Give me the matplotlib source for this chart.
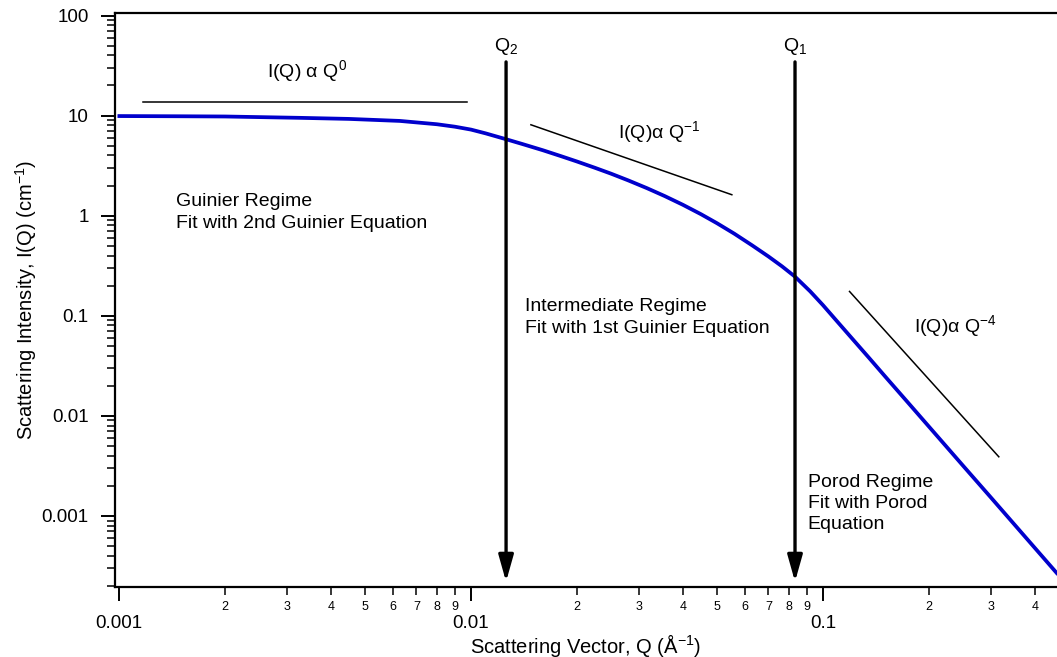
import numpy as np
import matplotlib
matplotlib.use("Agg")
import matplotlib.pyplot as plt
from matplotlib.ticker import LogLocator, FuncFormatter, NullFormatter

plt.rcParams['font.family'] = ['Liberation Sans', 'DejaVu Sans']
plt.rcParams['mathtext.fontset'] = 'custom'
plt.rcParams['mathtext.rm'] = 'Liberation Sans'
plt.rcParams['mathtext.it'] = 'Liberation Sans:italic'
plt.rcParams['mathtext.bf'] = 'Liberation Sans:bold'

# scattering curve
q = [0.00099, 0.0015, 0.002, 0.00327, 0.0045, 0.00628, 0.008, 0.009, 0.010,
     0.011, 0.0126, 0.014, 0.016, 0.018, 0.020, 0.0225, 0.025, 0.028,
     0.0316, 0.0355, 0.040, 0.045, 0.050, 0.056, 0.063, 0.070, 0.0765,
     0.0833, 0.092, 0.100, 0.110, 0.120, 0.135, 0.150, 0.175, 0.200,
     0.250, 0.300, 0.370, 0.470]
intensity = [9.9, 9.85, 9.8, 9.5, 9.27, 8.85, 8.2, 7.75, 7.25,
             6.65, 5.8, 5.2, 4.51, 3.94, 3.48, 3.01, 2.63, 2.25,
             1.886, 1.572, 1.285, 1.036, 0.841, 0.661, 0.504, 0.3915, 0.312,
             0.246, 0.1754, 0.1278, 0.0870, 0.0613, 0.0382, 0.0249, 0.0134, 0.00782,
             0.00318, 0.00153, 0.000656, 0.00025]

# power law guide lines
q0_x, q0_y = [0.00117, 0.00975], [13.8, 13.8]
qm1_x, qm1_y = [0.0148, 0.0551], [8.1, 1.62]
qm4_x, qm4_y = [0.119, 0.316], [0.175, 0.0039]

# crossover markers
q_marks = [0.01258, 0.0833]
q_mark_labels = ["Q$_2$", "Q$_1$"]
arrow_top, arrow_tip = 34.4, 2.2e-4

fig = plt.figure(figsize=(10.57, 6.57), dpi=100)
ax = fig.add_axes([115 / 1057, 1 - 587 / 657, 1 - 115 / 1057, (587 - 13) / 657])

ax.plot(q, intensity, color='#0000cc', lw=2.7, solid_capstyle='butt',
        solid_joinstyle='round', zorder=3)
ax.plot(q0_x, q0_y, color='black', lw=1.1)
ax.plot(qm1_x, qm1_y, color='black', lw=1.1)
ax.plot(qm4_x, qm4_y, color='black', lw=1.1)

for xm, lab in zip(q_marks, q_mark_labels):
    ax.annotate("", xy=(xm, arrow_tip), xytext=(xm, arrow_top),
                arrowprops=dict(arrowstyle='-|>,head_length=1.6,head_width=0.45',
                                lw=2.4, color='black', shrinkA=0, shrinkB=0,
                                mutation_scale=10), zorder=4)
    ax.text(xm, 44.4, lab, ha='center', va='baseline', fontsize=14)

ax.text(0.00263, 24, "I(Q) \u03b1 Q$^{0}$", fontsize=14, va='baseline')
ax.text(0.0262, 5.9, "I(Q)\u03b1 Q$^{-1}$", fontsize=14, va='baseline')
ax.text(0.1815, 0.069, "I(Q)\u03b1 Q$^{-4}$", fontsize=14, va='baseline')

# va='baseline' pins the last line of these blocks
ax.text(0.00145, 0.76, "Guinier Regime\nFit with 2nd Guinier Equation",
        fontsize=14, va='baseline', linespacing=1.38)
ax.text(0.01422, 0.0676, "Intermediate Regime\nFit with 1st Guinier Equation",
        fontsize=14, va='baseline', linespacing=1.38)
ax.text(0.0906, 7.4e-4, "Porod Regime\nFit with Porod\nEquation",
        fontsize=14, va='baseline', linespacing=1.3)

ax.set_xscale('log')
ax.set_yscale('log')
ax.set_xlim(0.000974, 0.4624)
ax.set_ylim(1.95e-4, 106)

ax.xaxis.set_major_locator(LogLocator(base=10))
ax.xaxis.set_minor_locator(LogLocator(base=10, subs=np.arange(2, 10)))
ax.yaxis.set_major_locator(LogLocator(base=10))
ax.yaxis.set_minor_locator(LogLocator(base=10, subs=np.arange(2, 10)))

ax.xaxis.set_major_formatter(FuncFormatter(lambda v, p: '%g' % v))
ax.yaxis.set_major_formatter(FuncFormatter(lambda v, p: '%g' % v))


def minor_label(v, p):
    m = v / 10 ** np.floor(np.log10(v) + 1e-9)
    return '%d' % round(m)


ax.xaxis.set_minor_formatter(FuncFormatter(minor_label))
ax.yaxis.set_minor_formatter(NullFormatter())

ax.tick_params(axis='both', which='major', direction='out', length=10, width=1.4,
               labelsize=13.5, color='black')
ax.tick_params(axis='x', which='major', pad=10)
ax.tick_params(axis='y', which='major', pad=9)
ax.tick_params(axis='both', which='minor', direction='out', length=5.5, width=1.1)
ax.tick_params(axis='x', which='minor', labelsize=9, pad=4.5)
ax.tick_params(top=False, right=False, which='both')

for side in ['left', 'bottom', 'top']:
    ax.spines[side].set_linewidth(1.6)
ax.spines['right'].set_visible(False)

ax.set_xlabel("Scattering Vector, Q (\u00c5$^{-1}$)", fontsize=14.5, labelpad=0)
ax.set_ylabel("Scattering Intensity, I(Q) (cm$^{-1}$)", fontsize=14.5, labelpad=2)

fig.savefig("out.png", dpi=100)
